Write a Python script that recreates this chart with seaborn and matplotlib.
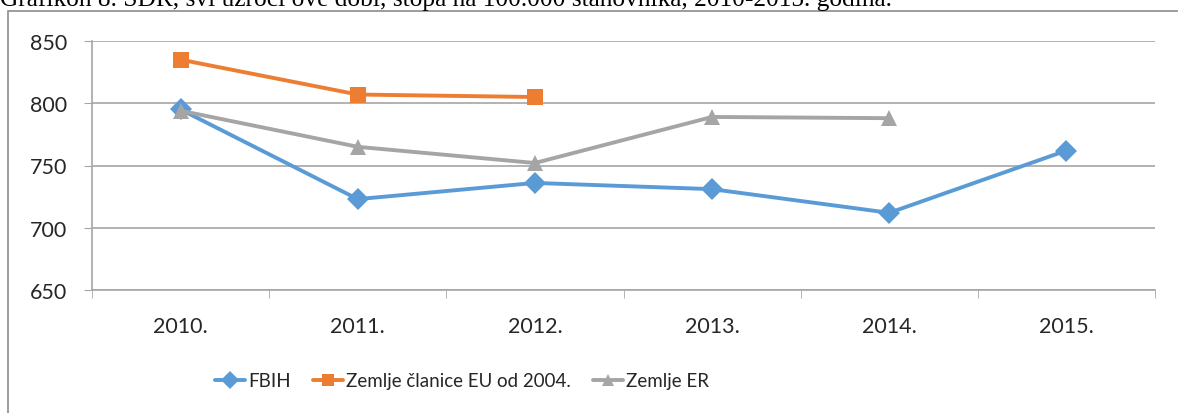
import numpy as np
import pandas as pd
import matplotlib.pyplot as plt
import seaborn as sns
from matplotlib.patches import Rectangle
from matplotlib.lines import Line2D

years = ['2010.', '2011.', '2012.', '2013.', '2014.', '2015.']
fbih = [795, 723, 736, 731, 712, 762]
eu2004 = [835, 807, 805, np.nan, np.nan, np.nan]
er = [794, 765, 752, 789, 788, np.nan]
series_names = ['FBIH', 'Zemlje članice EU od 2004.', 'Zemlje ER']
colors = ['#5B9BD5', '#ED7D31', '#A5A5A5']
markers = ['D', 's', '^']
yticks = [650, 700, 750, 800, 850]

rows = []
for name, vals in zip(series_names, [fbih, eu2004, er]):
    for i, v in enumerate(vals):
        if not np.isnan(v):
            rows.append({'pos': i, 'val': v, 'series': name})
df = pd.DataFrame(rows)

sns.set_style('white')
plt.rcParams['font.family'] = ['Lato', 'DejaVu Sans']

fig = plt.figure(figsize=(11.78, 4.14), dpi=100)
ax = fig.add_axes([92 / 1178, 1 - 291 / 414, (1155 - 92) / 1178, (291 - 42) / 414])

# okvir grafikona i odsjeceni naslov iznad
fig.patches.append(Rectangle((8 / 1178, -0.1), 1.2, 1 - 12 / 414 + 0.1, transform=fig.transFigure,
                             fill=False, edgecolor='#8c8c8c', linewidth=1.2, zorder=0))
fig.text(0.0, 1 - 6 / 414, 'Grafikon 8. SDR, svi uzroci ove dobi, stopa na 100.000 stanovnika, 2010-2015. godina.',
         family='Liberation Serif', fontsize=18.3, va='baseline', ha='left', color='black')

sns.lineplot(data=df, x='pos', y='val', hue='series', style='series', hue_order=series_names,
             style_order=series_names, palette=dict(zip(series_names, colors)),
             markers=dict(zip(series_names, markers)), dashes=False, linewidth=2.8,
             markersize=11, markeredgewidth=0, legend=False, ax=ax)

ax.set_xlim(-0.5, 5.5)
ax.set_ylim(650, 850)
ax.set_yticks(yticks)
ax.set_yticklabels([str(t) for t in yticks], fontsize=15.5)
ax.set_xticks(range(len(years)))
ax.set_xticklabels(years, fontsize=15.5)
ax.set_xticks(np.arange(-0.5, 6, 1), minor=True)
ax.tick_params(axis='x', which='major', length=0, pad=19)
ax.tick_params(axis='x', which='minor', length=6, color='#a6a6a6', direction='out', bottom=True)
ax.tick_params(axis='y', length=6, color='#a6a6a6', direction='out', left=True, pad=12)
ax.grid(axis='y', color='#a6a6a6', linewidth=1.2)
ax.set_axisbelow(True)
for side in ['top', 'right']:
    ax.spines[side].set_visible(False)
for side in ['left', 'bottom']:
    ax.spines[side].set_color('#a6a6a6')
    ax.spines[side].set_linewidth(1.2)
ax.set_xlabel('')
ax.set_ylabel('')

handles = [Line2D([0], [0], color=c, marker=m, linewidth=2.8, markersize=9, markeredgewidth=0)
           for c, m in zip(colors, markers)]
fig.legend(handles, series_names, loc='center', bbox_to_anchor=(462 / 1178, 1 - 382 / 414), ncol=3,
           frameon=False, prop={'family': 'Lato', 'size': 13.5},
           handlelength=1.6, handletextpad=0.15, columnspacing=1.2)

fig.savefig('out.png', dpi=100)
